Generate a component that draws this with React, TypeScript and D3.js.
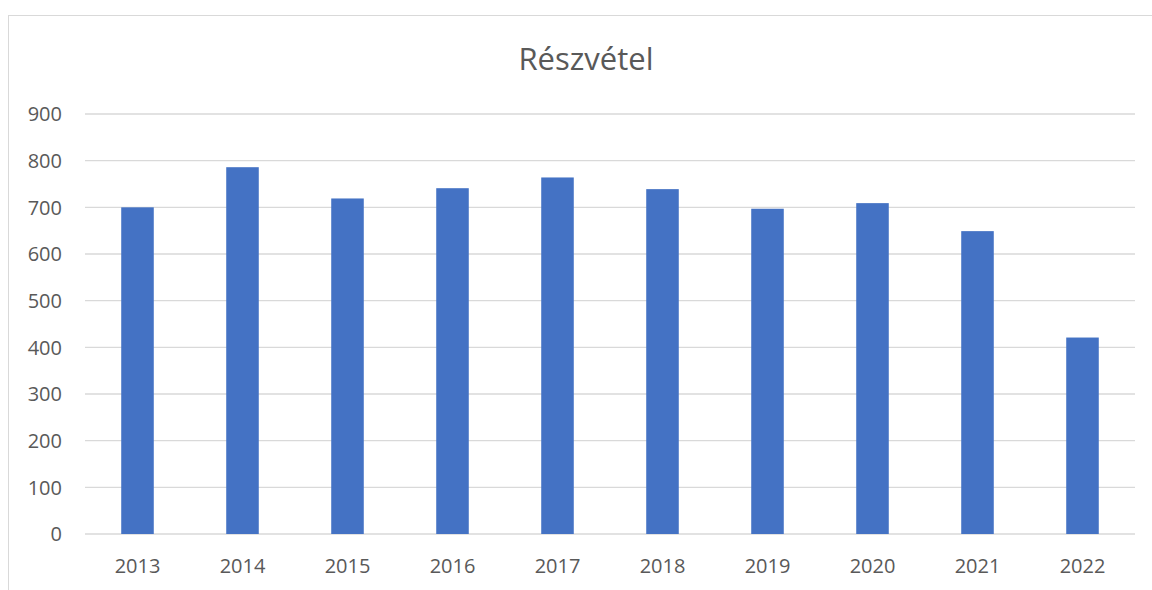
import React from 'react'
import * as d3 from 'd3'

const years = ['2013', '2014', '2015', '2016', '2017', '2018', '2019', '2020', '2021', '2022']
const participants = [700, 786, 719, 741, 764, 739, 697, 709, 649, 421]
const yTicks = [0, 100, 200, 300, 400, 500, 600, 700, 800, 900]
const title = 'Részvétel'

export default function App() {
    const width = 1152
    const height = 590
    const [top, right, bottom, left] = [114, 17, 56, 85]
    const font = "'Open Sans', 'Liberation Sans', sans-serif"
    const textColor = '#595959'

    const x = d3
        .scaleBand()
        .domain(years)
        .range([left, width - right])
        .paddingInner(0.69)
        .paddingOuter(0.345)

    const y = d3
        .scaleLinear()
        .domain([0, 900])
        .range([height - bottom, top])

    return (
        <svg
            width={width}
            height={height}
            style={{ position: 'fixed', left: 0, top: 0, background: 'white' }}
        >
            <rect x={8.5} y={15.5} width={1160} height={600} fill='white' stroke='#d9d9d9' />
            <text
                x={586}
                y={70}
                textAnchor='middle'
                fontFamily={font}
                fontSize={31}
                fill={textColor}
            >
                {title}
            </text>
            <g>
                {yTicks.map(t => (
                    <g key={t}>
                        <line
                            x1={left}
                            x2={width - right}
                            y1={y(t)}
                            y2={y(t)}
                            stroke='#d9d9d9'
                            strokeWidth={1.3}
                        />
                        <text
                            x={62}
                            y={y(t)}
                            dy='0.36em'
                            textAnchor='end'
                            fontFamily={font}
                            fontSize={20}
                            fill={textColor}
                        >
                            {t}
                        </text>
                    </g>
                ))}
            </g>
            <g>
                {years.map((yr, i) => (
                    <g key={yr}>
                        <rect
                            x={x(yr)}
                            y={y(participants[i])}
                            width={x.bandwidth()}
                            height={y(0) - y(participants[i])}
                            fill='#4472c4'
                        />
                        <text
                            x={(x(yr) ?? 0) + x.bandwidth() / 2}
                            y={573}
                            textAnchor='middle'
                            fontFamily={font}
                            fontSize={20}
                            fill={textColor}
                        >
                            {yr}
                        </text>
                    </g>
                ))}
            </g>
        </svg>
    )
}
